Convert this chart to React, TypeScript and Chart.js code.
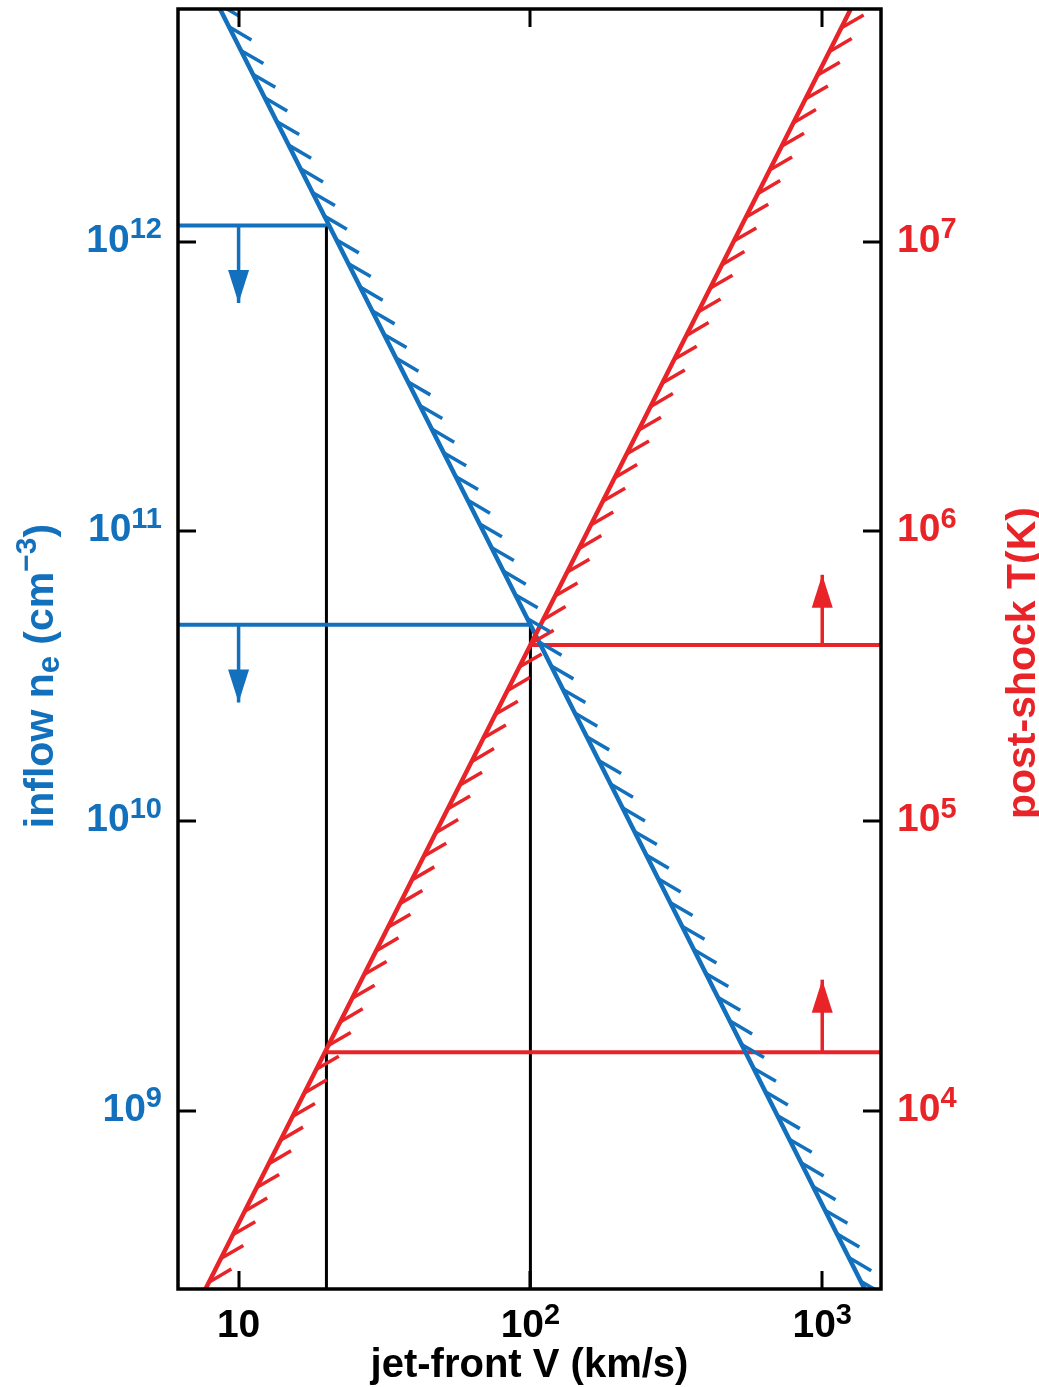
import React, { useEffect, useRef } from "react";
import { Chart, registerables } from "chart.js";

Chart.register(...registerables);

const BLUE = "rgb(18,112,188)";
const RED = "rgb(232,36,40)";
const BLACK = "#000000";
const FONT = "'Liberation Sans', Arial, Helvetica, sans-serif";

// Axis ranges
const vRange = [6.2, 1590]; // jet-front V (km/s)
const nRange = [2.42e8, 6.35e12]; // inflow n_e (cm^-3)
const tRange = [2.42e3, 6.35e7]; // post-shock T (K)

// Tick values
const vTicks = [10, 100, 1000];
const nTicks = [1e9, 1e10, 1e11, 1e12];
const tTicks = [1e4, 1e5, 1e6, 1e7];

// Blue limit line n_e(V)
const nLineV = [8, 100, 1500];
const nLineN = [7.4e12, 4.75e10, 2.1e8];

// Red limit line T(V)
const tLineV = [7, 100, 1700];
const tLineT = [2.0e3, 4.05e5, 1.17e8];

// Blue horizontal limits (start at left edge, end at V)
const nLimitLevel = [1.135e12, 4.75e10];
const nLimitEndV = [20, 100];
// Blue arrows at V = 10, from level down to tip
const nArrowV = 10;
const nArrowTip = [6.14e11, 2.56e10];

// Red horizontal limits (start at V, run to right edge)
const tLimitLevel = [1.59e4, 4.05e5];
const tLimitStartV = [20, 100];
// Red arrows at V = 1000, from level up to tip
const tArrowV = 1000;
const tArrowTip = [2.83e4, 7.07e5];

// Black vertical markers
const markV = [20, 100];
const markTopN = [1.135e12, 4.75e10];

// Text
const xTitle = "jet-front V (km/s)";
const rightTitle = "post-shock T(K)";

const common = { pointRadius: 0, fill: false, tension: 0, clip: 0, borderCapStyle: "butt" };

const datasets: any[] = [];
markV.forEach((v, i) =>
  datasets.push({
    ...common,
    data: [{ x: v, y: markTopN[i] }, { x: v, y: nRange[0] }],
    borderColor: BLACK,
    borderWidth: 3,
    yAxisID: "yN",
    order: 5,
  })
);
nLimitLevel.forEach((lvl, i) =>
  datasets.push({
    ...common,
    data: [{ x: vRange[0], y: lvl }, { x: nLimitEndV[i], y: lvl }],
    borderColor: BLUE,
    borderWidth: 4,
    yAxisID: "yN",
    order: 3,
  })
);
nArrowTip.forEach((tip, i) =>
  datasets.push({
    ...common,
    data: [{ x: nArrowV, y: nLimitLevel[i] }, { x: nArrowV, y: tip }],
    borderColor: BLUE,
    borderWidth: 3.5,
    yAxisID: "yN",
    order: 3,
    arrow: true,
  })
);
tLimitLevel.forEach((lvl, i) =>
  datasets.push({
    ...common,
    data: [{ x: tLimitStartV[i], y: lvl }, { x: vRange[1], y: lvl }],
    borderColor: RED,
    borderWidth: 4,
    yAxisID: "yT",
    order: 3,
  })
);
tArrowTip.forEach((tip, i) =>
  datasets.push({
    ...common,
    data: [{ x: tArrowV, y: tLimitLevel[i] }, { x: tArrowV, y: tip }],
    borderColor: RED,
    borderWidth: 3.5,
    yAxisID: "yT",
    order: 3,
    arrow: true,
  })
);
datasets.push({
  ...common,
  data: tLineV.map((v, i) => ({ x: v, y: tLineT[i] })),
  borderColor: RED,
  borderWidth: 4.5,
  yAxisID: "yT",
  order: 1,
  hatch: { angle: 33, phase: 8 },
});
datasets.push({
  ...common,
  data: nLineV.map((v, i) => ({ x: v, y: nLineN[i] })),
  borderColor: BLUE,
  borderWidth: 4.5,
  yAxisID: "yN",
  order: 1,
  hatch: { angle: -33, phase: 15 },
});

const HATCH_SPACING = 26.5;
const HATCH_LEN = 26;

const hatchPlugin = {
  id: "hatchAndArrows",
  afterDatasetsDraw(chart: any) {
    const { ctx, chartArea: a } = chart;
    const xs = chart.scales.x;
    ctx.save();
    ctx.beginPath();
    ctx.rect(a.left, a.top, a.right - a.left, a.bottom - a.top);
    ctx.clip();
    chart.data.datasets.forEach((ds: any) => {
      const ys = chart.scales[ds.yAxisID];
      const pts = ds.data.map((p: any) => [xs.getPixelForValue(p.x), ys.getPixelForValue(p.y)]);
      if (ds.hatch) {
        const th = (ds.hatch.angle * Math.PI) / 180;
        ctx.strokeStyle = ds.borderColor;
        ctx.lineWidth = 3.5;
        ctx.lineCap = "butt";
        let next = ds.hatch.phase;
        let acc = 0;
        for (let k = 0; k < pts.length - 1; k++) {
          const [x0, y0] = pts[k];
          const [x1, y1] = pts[k + 1];
          const L = Math.hypot(x1 - x0, y1 - y0);
          const ux = (x1 - x0) / L;
          const uy = (y1 - y0) / L;
          const hx = ux * Math.cos(th) - uy * Math.sin(th);
          const hy = ux * Math.sin(th) + uy * Math.cos(th);
          while (next <= acc + L) {
            const s = next - acc;
            const px = x0 + ux * s;
            const py = y0 + uy * s;
            ctx.beginPath();
            ctx.moveTo(px, py);
            ctx.lineTo(px + hx * HATCH_LEN, py + hy * HATCH_LEN);
            ctx.stroke();
            next += HATCH_SPACING;
          }
          acc += L;
        }
      }
      if (ds.arrow) {
        const [x0, y0] = pts[0];
        const [x1, y1] = pts[pts.length - 1];
        const L = Math.hypot(x1 - x0, y1 - y0);
        const ux = (x1 - x0) / L;
        const uy = (y1 - y0) / L;
        const hl = 33;
        const hw = 10.5;
        const bx = x1 - ux * hl;
        const by = y1 - uy * hl;
        ctx.fillStyle = ds.borderColor;
        ctx.beginPath();
        ctx.moveTo(x1, y1);
        ctx.lineTo(bx - uy * hw, by + ux * hw);
        ctx.lineTo(bx + uy * hw, by - ux * hw);
        ctx.closePath();
        ctx.fill();
      }
    });
    ctx.restore();
  },
};

type Seg = { text: string; scale: number; dy: number };

function drawSegs(ctx: CanvasRenderingContext2D, segs: Seg[], x: number, y: number, size: number, align: string, color: string) {
  const widths = segs.map((s) => {
    ctx.font = `bold ${Math.round(size * s.scale)}px ${FONT}`;
    return ctx.measureText(s.text).width;
  });
  const total = widths.reduce((p, c) => p + c, 0);
  let cx = align === "center" ? x - total / 2 : align === "right" ? x - total : x;
  ctx.textAlign = "left";
  ctx.textBaseline = "alphabetic";
  ctx.fillStyle = color;
  segs.forEach((s, i) => {
    ctx.font = `bold ${Math.round(size * s.scale)}px ${FONT}`;
    ctx.fillText(s.text, cx, y + s.dy * size);
    cx += widths[i];
  });
}

function powSegs(v: number): Seg[] {
  const e = Math.round(Math.log10(v));
  if (e === 1) return [{ text: "10", scale: 1, dy: 0 }];
  return [
    { text: "10", scale: 1, dy: 0 },
    { text: String(e), scale: 0.74, dy: -0.34 },
  ];
}

const TICK_SIZE = 39;
const TICK_LEN = 18;

const framePlugin = {
  id: "frame",
  afterDraw(chart: any) {
    const { ctx, chartArea: a } = chart;
    const xs = chart.scales.x;
    const yN = chart.scales.yN;
    const yT = chart.scales.yT;
    ctx.save();
    ctx.strokeStyle = BLACK;
    ctx.lineWidth = 3.5;
    ctx.lineCap = "butt";
    ctx.strokeRect(a.left, a.top, a.right - a.left, a.bottom - a.top);
    ctx.lineWidth = 3;
    ctx.beginPath();
    vTicks.forEach((v) => {
      const px = Math.round(xs.getPixelForValue(v));
      ctx.moveTo(px, a.bottom);
      ctx.lineTo(px, a.bottom - TICK_LEN);
      ctx.moveTo(px, a.top);
      ctx.lineTo(px, a.top + TICK_LEN);
    });
    nTicks.forEach((v) => {
      const py = Math.round(yN.getPixelForValue(v));
      ctx.moveTo(a.left, py);
      ctx.lineTo(a.left + TICK_LEN, py);
    });
    tTicks.forEach((v) => {
      const py = Math.round(yT.getPixelForValue(v));
      ctx.moveTo(a.right, py);
      ctx.lineTo(a.right - TICK_LEN, py);
    });
    ctx.stroke();

    // tick labels
    vTicks.forEach((v) => {
      drawSegs(ctx, powSegs(v), xs.getPixelForValue(v), a.bottom + 48, TICK_SIZE, "center", BLACK);
    });
    nTicks.forEach((v) => {
      drawSegs(ctx, powSegs(v), a.left - 16, yN.getPixelForValue(v) + 10, TICK_SIZE, "right", BLUE);
    });
    tTicks.forEach((v) => {
      drawSegs(ctx, powSegs(v), a.right + 16, yT.getPixelForValue(v) + 10, TICK_SIZE, "left", RED);
    });

    // x title
    drawSegs(ctx, [{ text: xTitle, scale: 1, dy: 0 }], (a.left + a.right) / 2, 1377, 40, "center", BLACK);

    // left title
    ctx.save();
    ctx.translate(53, 676);
    ctx.rotate(-Math.PI / 2);
    drawSegs(
      ctx,
      [
        { text: "inflow n", scale: 1, dy: 0 },
        { text: "e", scale: 0.75, dy: 0.14 },
        { text: " (cm", scale: 1, dy: 0 },
        { text: "\u22123", scale: 0.72, dy: -0.42 },
        { text: ")", scale: 1, dy: 0 },
      ],
      0,
      0,
      41,
      "center",
      BLUE
    );
    ctx.restore();

    // right title
    ctx.save();
    ctx.translate(1035, 663);
    ctx.rotate(-Math.PI / 2);
    drawSegs(ctx, [{ text: rightTitle, scale: 1, dy: 0 }], 0, 0, 41, "center", RED);
    ctx.restore();

    ctx.restore();
  },
};

export default function App() {
  const ref = useRef<HTMLCanvasElement>(null);
  useEffect(() => {
    document.body.style.margin = "0";
    document.body.style.overflow = "hidden";
    const canvas = ref.current!;
    const chart = new Chart(canvas, {
      type: "line",
      data: { datasets },
      options: {
        responsive: false,
        animation: false,
        devicePixelRatio: 1,
        events: [],
        layout: { padding: { left: 178, right: 158, top: 9, bottom: 98 } },
        plugins: { legend: { display: false }, tooltip: { enabled: false } },
        elements: { point: { radius: 0 }, line: { tension: 0 } },
        scales: {
          x: { type: "logarithmic", min: vRange[0], max: vRange[1], display: false },
          yN: { type: "logarithmic", position: "left", min: nRange[0], max: nRange[1], display: false },
          yT: { type: "logarithmic", position: "right", min: tRange[0], max: tRange[1], display: false },
        },
      } as any,
      plugins: [hatchPlugin, framePlugin],
    });
    return () => chart.destroy();
  }, []);
  return (
    <div style={{ width: 1039, height: 1387, background: "#fff" }}>
      <canvas ref={ref} width={1039} height={1387} style={{ display: "block" }} />
    </div>
  );
}
